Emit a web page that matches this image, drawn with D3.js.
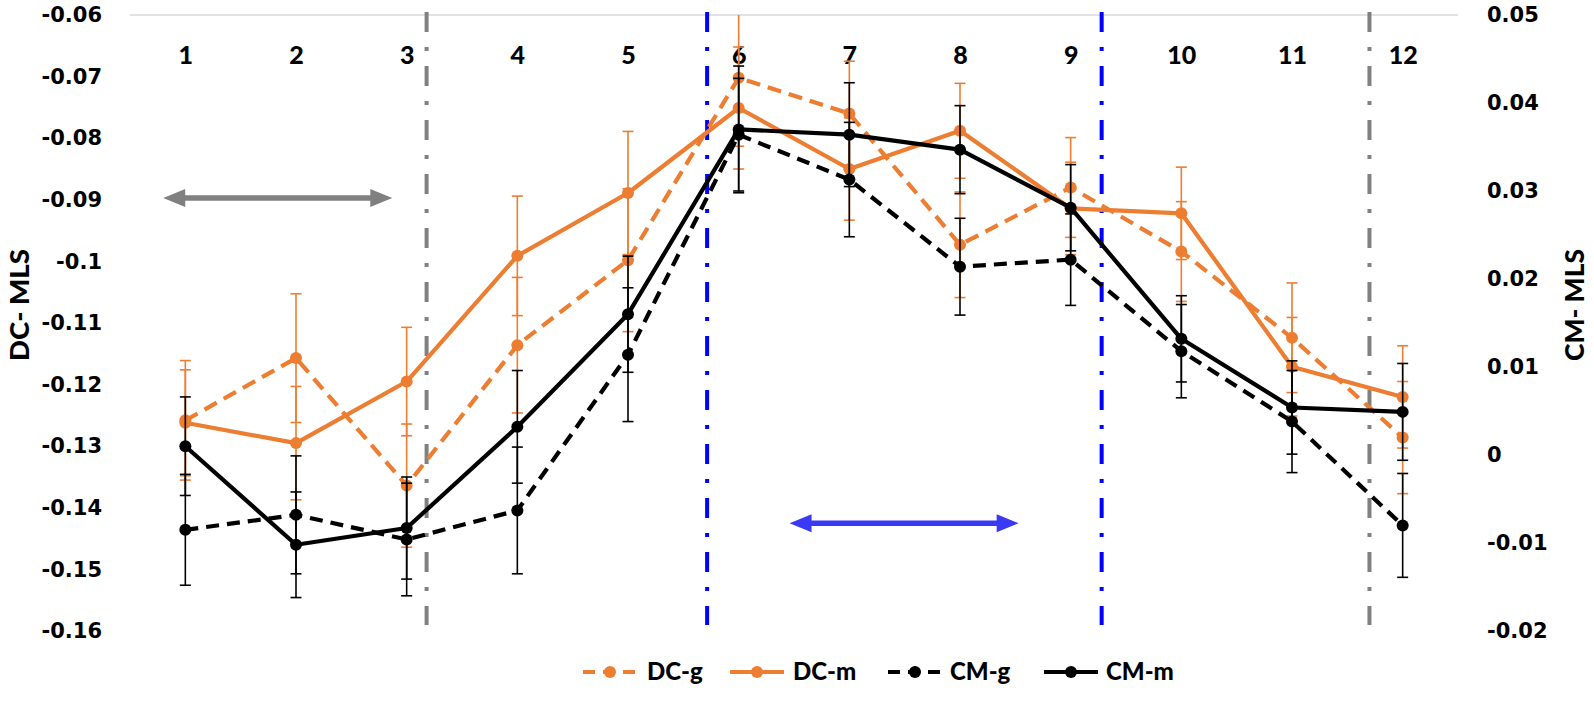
<!DOCTYPE html>
<html><head><meta charset="utf-8">
<script src="https://cdn.jsdelivr.net/npm/d3@7"></script>
<style>
html,body{margin:0;padding:0;background:#fff;}
svg{display:block;}
</style></head>
<body><svg id="chart" width="1594" height="703"></svg>
<script>
const categories = [1,2,3,4,5,6,7,8,9,10,11,12];
const leftTicks = [-0.06,-0.07,-0.08,-0.09,-0.1,-0.11,-0.12,-0.13,-0.14,-0.15,-0.16];
const rightTicks = [0.05,0.04,0.03,0.02,0.01,0,-0.01,-0.02];

const dcG    = [-0.1258,-0.1157,-0.1364,-0.1136,-0.0998,-0.0702,-0.0760,-0.0973,-0.0880,-0.0984,-0.1124,-0.1286];
const dcGErr = [0.0097,0.01045,0.0100,0.0110,0.0116,0.0111,0.0085,0.00857,0.0081,0.0081,0.0089,0.0091];
const dcM    = [-0.1262,-0.1295,-0.1195,-0.0991,-0.0889,-0.0751,-0.0850,-0.0788,-0.0914,-0.0922,-0.1171,-0.1220];
const dcMErr = [0.0086,0.0092,0.0088,0.0097,0.0100,0.0099,0.0083,0.0077,0.0075,0.0075,0.0080,0.0083];
const cmG    = [-0.0085,-0.0068,-0.0096,-0.0063,0.0114,0.0364,0.0313,0.0214,0.0222,0.0118,0.0038,-0.0080];
const cmGErr = [0.0063,0.0067,0.0064,0.0072,0.0076,0.0064,0.0065,0.0055,0.0052,0.0053,0.0058,0.0059];
const cmM    = [0.0010,-0.0102,-0.0083,0.0032,0.0160,0.0370,0.0364,0.0347,0.0281,0.0132,0.0054,0.0049];
const cmMErr = [0.0056,0.0060,0.0058,0.0064,0.0066,0.0072,0.0059,0.0050,0.0049,0.0049,0.0053,0.0055];

// annotation positions in category units
const grayDividers = [3.18, 11.70];
const blueDividers = [5.715, 9.28];
const grayArrow = {from:0.80, to:2.87, value:-0.0897};   // left axis units
const blueArrow = {from:6.46, to:8.53, value:-0.1425};

const W=1594,H=703;
const plot={left:130,right:1458,top:15,bottom:631};
const svg=d3.select('#chart');
const x=d3.scaleLinear().domain([0.5,12.5]).range([plot.left,plot.right]);
const yL=d3.scaleLinear().domain([-0.16,-0.06]).range([plot.bottom,plot.top]);
const yR=d3.scaleLinear().domain([-0.02,0.05]).range([plot.bottom,plot.top]);

const ORANGE='#ED7D31', BLACK='#000000';
const tickFont='"DejaVu Sans", sans-serif';
const labFont='Lato, "Open Sans", sans-serif';
const fmt=d=>String(+d.toFixed(2));

// top gridline
svg.append('line').attr('x1',plot.left).attr('x2',plot.right)
  .attr('y1',yL(-0.06)).attr('y2',yL(-0.06))
  .attr('stroke','#d9d9d9').attr('stroke-width',1.5);

// left axis
const la=svg.append('g').attr('transform',`translate(${plot.left-28},0)`)
  .call(d3.axisLeft(yL).tickValues(leftTicks).tickSize(0).tickPadding(0).tickFormat(fmt));
la.select('.domain').remove();
la.selectAll('text').attr('font-family',tickFont).attr('font-weight','bold').attr('font-size',21).attr('fill','#000');

// right axis
const ra=svg.append('g').attr('transform',`translate(${plot.right+29},0)`)
  .call(d3.axisRight(yR).tickValues(rightTicks).tickSize(0).tickPadding(0).tickFormat(fmt));
ra.select('.domain').remove();
ra.selectAll('text').attr('font-family',tickFont).attr('font-weight','bold').attr('font-size',21).attr('fill','#000');

// top category axis
const ca=svg.append('g').attr('transform',`translate(0,${plot.top+40})`)
  .call(d3.axisBottom(x).tickValues(categories).tickSize(0).tickPadding(0).tickFormat(d3.format('d')));
ca.select('.domain').remove();
ca.selectAll('text').attr('font-family',labFont).attr('font-weight',900).attr('font-size',25).attr('fill','#000').attr('dy','0.35em');

// axis titles
svg.append('text').attr('transform',`translate(29,305) rotate(-90)`)
  .attr('text-anchor','middle').attr('font-family',labFont).attr('font-weight',900).attr('font-size',26)
  .attr('textLength',112).attr('lengthAdjust','spacingAndGlyphs').text('DC- MLS');
svg.append('text').attr('transform',`translate(1584,305) rotate(-90)`)
  .attr('text-anchor','middle').attr('font-family',labFont).attr('font-weight',900).attr('font-size',26)
  .attr('textLength',112).attr('lengthAdjust','spacingAndGlyphs').text('CM- MLS');

// dividers
const divPattern='20,15,4,15';
function divider(c,color){
  svg.append('line').attr('x1',x(c)).attr('x2',x(c)).attr('y1',12).attr('y2',625)
    .attr('stroke',color).attr('stroke-width',4).attr('stroke-dasharray',divPattern);
}
grayDividers.forEach(c=>divider(c,'#808080'));
blueDividers.forEach(c=>divider(c,'#0000FF'));

// arrows
function dblArrow(a,color){
  const x1=x(a.from), x2=x(a.to), y=yL(a.value);
  const hl=22, hw=9, sw=2.8;
  const p=`M${x1},${y} L${x1+hl},${y-hw} L${x1+hl},${y-sw} L${x2-hl},${y-sw} L${x2-hl},${y-hw} L${x2},${y} L${x2-hl},${y+hw} L${x2-hl},${y+sw} L${x1+hl},${y+sw} L${x1+hl},${y+hw} Z`;
  svg.append('path').attr('d',p).attr('fill',color);
}
dblArrow(grayArrow,'#808080');
dblArrow(blueArrow,'#3A3AF5');

// clip
svg.append('clipPath').attr('id','plotclip').append('rect')
  .attr('x',plot.left-20).attr('y',plot.top).attr('width',plot.right-plot.left+40).attr('height',plot.bottom-plot.top);
const gData=svg.append('g').attr('clip-path','url(#plotclip)');

const series=[
  {name:'DC-g',vals:dcG,err:dcGErr,y:yL,color:ORANGE,dash:'14,8'},
  {name:'DC-m',vals:dcM,err:dcMErr,y:yL,color:ORANGE,dash:null},
  {name:'CM-g',vals:cmG,err:cmGErr,y:yR,color:BLACK,dash:'13,8'},
  {name:'CM-m',vals:cmM,err:cmMErr,y:yR,color:BLACK,dash:null},
];

series.forEach(s=>{
  const g=gData.append('g');
  const pts=categories.map((c,i)=>({c,v:s.vals[i],e:s.err[i]}));
  const eb=g.selectAll('g.eb').data(pts).join('g');
  eb.append('line').attr('x1',d=>x(d.c)).attr('x2',d=>x(d.c))
    .attr('y1',d=>s.y(d.v+d.e)).attr('y2',d=>s.y(d.v-d.e))
    .attr('stroke',s.color).attr('stroke-width',1.6);
  [1,-1].forEach(sg=>{
    eb.append('line').attr('x1',d=>x(d.c)-5.5).attr('x2',d=>x(d.c)+5.5)
      .attr('y1',d=>s.y(d.v+sg*d.e)).attr('y2',d=>s.y(d.v+sg*d.e))
      .attr('stroke',s.color).attr('stroke-width',1.6);
  });
  g.append('path').datum(pts)
    .attr('d',d3.line().x(d=>x(d.c)).y(d=>s.y(d.v)))
    .attr('fill','none').attr('stroke',s.color).attr('stroke-width',4.2)
    .attr('stroke-dasharray',s.dash).attr('stroke-linejoin','round');
  g.selectAll('circle').data(pts).join('circle')
    .attr('cx',d=>x(d.c)).attr('cy',d=>s.y(d.v)).attr('r',6).attr('fill',s.color);
});

// legend
const legendItems=[
  {s:series[0],sx:583,tx:647},
  {s:series[1],sx:730,tx:793},
  {s:series[2],sx:888,tx:950},
  {s:series[3],sx:1044,tx:1106},
];
const ly=672;
legendItems.forEach(it=>{
  const g=svg.append('g');
  const len=54;
  g.append('line').attr('x1',it.sx).attr('x2',it.sx+len).attr('y1',ly).attr('y2',ly)
    .attr('stroke',it.s.color).attr('stroke-width',4)
    .attr('stroke-dasharray',it.s.dash?'12,8':null);
  g.append('circle').attr('cx',it.sx+len/2).attr('cy',ly).attr('r',6).attr('fill',it.s.color);
  g.append('text').attr('x',it.tx).attr('y',ly).attr('dy','0.35em')
    .attr('font-family',labFont).attr('font-weight',900).attr('font-size',24).text(it.s.name);
});
</script>
</body></html>
